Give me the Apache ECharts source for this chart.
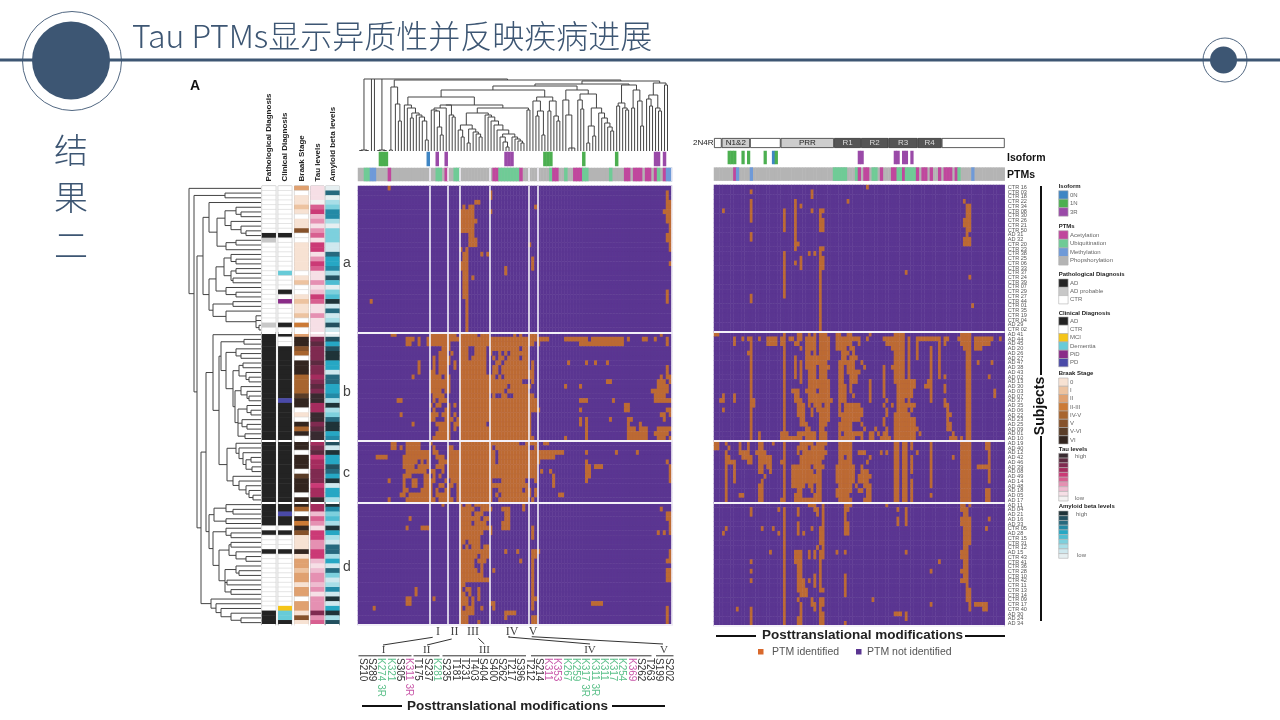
<!DOCTYPE html>
<html><head><meta charset="utf-8">
<style>html,body{margin:0;padding:0;background:#fff}#c{width:1280px;height:720px}</style>
<script src="https://cdn.jsdelivr.net/npm/echarts@6/dist/echarts.min.js"></script>
</head><body><div id="c"></div>
<script>
// ---------- DATA ----------
const subjectsA=['CTR 16','CTR 03','CTR 18','CTR 22','CTR 34','CTR 08','CTR 30','CTR 26','CTR 21','CTR 50','AD 31','AD 32','CTR 20','CTR 23','CTR 38','CTR 25','CTR 06','CTR 33','CTR 37','CTR 24','CTR 39','CTR 07','CTR 29','CTR 27','CTR 44','CTR 01','CTR 35','CTR 19','CTR 04','AD 29','CTR 02'];
const subjectsB=['AD 41','AD 44','AD 45','AD 20','AD 26','AD 27','AD 47','AD 38','AD 43','AD 02','AD 13','AD 30','AD 03','AD 07','AD 37','AD 35','AD 06','AD 22','AD 23','AD 25','AD 09','AD 01','AD 10'];
const subjectsC=['AD 19','AD 40','AD 12','AD 42','AD 46','AD 39','AD 08','AD 49','AD 14','AD 48','AD 18','AD 05','AD 17'];
const subjectsD=['AD 11','AD 04','AD 21','AD 16','AD 33','CTR 05','AD 28','CTR 15','CTR 31','CTR 12','AD 15','CTR 43','CTR 41','CTR 36','CTR 28','CTR 10','CTR 42','CTR 11','CTR 13','CTR 14','CTR 09','CTR 17','CTR 40','AD 30','AD 24','AD 34'];
// PTM identified (column ranges per subject) — left heat map, clustered by PTM
const leftA=['10','44,103','44,103','39-40,103-104','35,37-38,59,103-104','34-38,44,102-104','34-38,103-104','34-39,103-104','34-38,104','34-38,104','37-38,103-104','37-39,103-104','37-39,57,104','34,36,104','35-36,41,43','35-36,58','34-36,58,104','34-36,49,58','35-36,49','35-36,38','35-36','35-36','35-36,103','35-36,103','4,36,103','36','36','36','36','36','36'];
const leftB=['11-12,24-32,34-39,41-43,52,54,57-59,101','16-18,20,23-63,69-76,78-88,90,95-96,99,103','16-17,20,23-30,34-58,60,74-88,103','28-30,34-36,39-42,44-53,55-56','27-29,31,34-36,39-42,44,47,49,51-56','25,27-30,34-36,38-42,45,47-48,50-53,55-56','20,25,27-30,32,34-42,46-47,49-56,58,70,76,79,83','20,25,27-29,32,34-42,45-46,48-56,58,103','20,24-25,27-29,34-42,45-46,48-58,103','18,24-27,29-30,34-45,47,49-58,101,103-104','24-30,34-54,58,83-84,100-102,104','24-30,34-49,51-57,69,74,100-103','24-27,29-30,34-48,50-56,98-103','25-28,34-43,45,48-49,52-58,99-102','13-14,25,27-29,34-59,74-76,85,99-104','24,26-27,30,32,34-59,89-90','25,29-30,34-60,74,89-90,103-104','14,24-26,28-30,32,34-57,101-102,104','24-25,29-31,33-57,74,76,84,90-91,102','18,26-30,32-42,44-57,74,76,90,94','27-30,32,34-57,76,90-92,94-96,100-104','26-30,34-57,76,90-96,99-103','25-30,34-58,69,76,90-96,100-102,104'];
const leftC=['11-12,16-20,24,34-53,56-59,62-63','11-12,14,16-20,25,30-31,34-44,46-56,59','16-23,25-26,30-45,47-68,76,86,93','6-9,15-23,26-28,30-45,47-65','15-19,21,23,27-29,30-45,47-60,76,103','15-18,20-23,26-28,30-59,76-77,79-81,104','16-22,24-25,28,30-59,61,64,76-77,104','15-17,22-23,25,27,30-59,65,76-77,104','10,15,18-19,22-25,29,31-44,48-55,59,65,76,104','15,18-19,22-24,27-28,30-31,33-56,65','15-16,21-24,26,29-30,33-44,47-54,56-57,59','14-15,17-24,26-30,33-44,46,48-57,59,67-68','10,16-25,27-31,33-44,47-56,58'];
const leftD=['28,34,36-37,39-43,55','34-38,41-44,48-50,55,101','34-37,39-41,49-50,103-104','17,34-40,42-43,49-50,103-104','34-37,39-42,48-50,104','16,21-23,34-44,48-50,58,104','34-41,44,58,100,102,104','34-40,58','34-35,37-40','34,36,38-40,42-43','34-43,49,53,58-60,104','34-39,41-43,58-59,104','34-38,40-42,54,58,103-104','34-38,41,58','34-39,41,45,58,103-104','34-41,58,103-104','34-43,58,103-104','34-35,58','34,36-37,19,40,58','19,34-35,37,40,58','16-17,25,34-36,38,40,58-59','16-17,34-36,38,44-45,58,78-81','5,34,36-38,41,45,58,103','34-38,49-52,103','34-36,49,58-59,103','34-36,40,58-59,103'];
// PTM identified — right heat map, ordered along the protein
const rightA=['55','13,35','35','13,29,48,90','13,29,31,91-92','3,13,25,29,35,38-39,91-92','13,25,29,38,91-92','13,25,29,38-39,90-92','25,29,38-39,90-92','25,29,38-39,91-92','13,29,91','13,29,90-92','29-30,90-92','29,38-39','25,34,36,38','25,31,38-39','25,29,31,38-39','25,31,38-39','25,38,69','25,38,92','25,38','25,38','25,38','13,25,38','13,38','38,93','38','38','38','38','38'];
const rightB=['0-1,25,30-31,34,36,38-40,44-45,48-49,56,65-68,89-92','7,10,12-13,16,19-22,24-25,27-28,30-31,33-36,38-41,44-52,55,61-68,70,73-81,83-84,88-92,94-100,103','7,13,19-22,24-25,29-30,33-36,38-41,44-49,52,62-68,70,73,81,83,89-92,94-99','13,25,31,33-36,38-41,44-47,49-50,64-68,70,73,78,81,90-92,94-96','12-13,25,33-34,36,38-41,46-48,50,65-68,70,73,78,81,91-92','13,25,29,33-41,46-47,49-51,65-68,70,73,78,81,91-92','13,25,29,31,33-40,45-50,53,65-68,70,78,81,91-92,95,100','13,25,29,31,33-36,38-41,45-46,48-50,54,61,64-68,70,78,81,91-92','13,25,29,31,34-36,38-40,45-46,48-52,61,65-68,70,78,81,91-92','13,25,29,31,34-36,38-40,45-46,49-51,61,65-68,70,78,81,83,91-92,99','13,25,31,34-41,45-46,49-51,56,61,65-72,77-78,91-92','13,25,34-41,45-47,49,56,61,66-72,76-78,83,91-92','13,25,28-30,33-36,38-41,45-47,49,56,61,66-71,78,83,91-92,101','3,7,13,25,29-30,34-41,45-47,50,56,61,66-71,78,91-92,101','2-3,7,13-14,25,29-31,34-42,45-47,56,62,66-68,70,78,83,91-92','13-14,25,30-32,34,36-38,40-41,45,47-52,61,64,66-72,83-84,91-92','3,13,25,30-32,35,37-41,45,47-53,62,66-69,71,84,91-92','13,25,30-32,35,38-41,45-53,62,65-70,84-85,91-92','13,25,31-32,38-41,46-52,61,65-72,84,91-92','13,25,31-33,38-40,45-49,53,61,65-72,84-85,91-92','13,25,33-34,38-39,45-49,54,58,62,65-73,84-85,91-92','13,16,24-26,30-36,38-40,45,47-53,56-57,59,61-62,65-72,74,86,91-92','13,16,24-31,33-36,38-40,45-50,53,56-57,60-63,65-72,85-87,89,91-92'];
const rightC=['0-1,4,9,12,16-17,21,25,31-35,37-40,45-49,65-66,68-69,71,78,89-92,98-99','0-1,5,9,12,16-17,25,30-33,35-39,45-49,65-66,68-69,71,78,89-92,98-99','4,9-12,15-18,25,30,32-40,45-49,52-54,60,62,65-66,68-69,73,78,89-92,99','4-5,10-13,16-20,25,31-39,45-46,48-49,56,65-66,68-69,71,78,86,89-92,99','4-7,12-13,16-20,24-25,31-38,45-49,55,65-66,68-69,71,78,89-92,99','4,7,16-17,19-20,25,28-34,36-39,44-50,53,65-66,68-69,71,78,89-92,95-99','4,7,16-17,20,25,28-35,37-38,44-50,53-55,65-66,68-69,71,78,89-92,99','4,7,18,25,28-38,44-50,52-56,65-66,68-69,78,89-92,99','4,7,17,25,28-38,44-50,52-55,65-66,68-69,71,78,89-92,99','4,16-17,25,28-32,34-35,37-38,45-49,51,54-56,65-66,68-69,71,78,89-92','4,16-17,25,30-31,35,37-38,44-49,52-53,55-56,65-66,68-69,71,89-92,98-99','4,9-10,16-17,25,29-31,36-38,44-48,55-56,65-66,68-69,71,78,89-92,98-99','4,16-17,24-25,29-38,45-49,54-56,65-66,68-69,71,89-92,98-99'];
const rightD=['34-36,39,47-49,62,89-90,92','13,23,25,30,36-37,39,47-48,66,69,89-91','13,25,30,37,39,47,69,90-91','25,39,47,66,69,89-92,99','25,30,39,47-48,66,69,89-92','4,17,21,25,30,35,38-39,47-48,90-92,98','3,23,25,30,32,38-39,47-48,90-92','25,38-39,90-92','25,38-39,90-92','25,37,39,90-91','20,25,29-31,34,36,38-39,44,47,69,89-91','25,29-31,34,36,38-39,89-91','13,25,29-31,38,81,90-91','25,30-31,38,90-91','13,25,30-31,38,78,89-91','25,30-31,36,38,47,90-91','13,25,30-32,34,36,38,47,89-91','25,30-32,36,38,47,91','25,30-33,38-39,47,91-92','25,31-33,47,91-92','25,30,35,38-39,57,91-92','25,31,35-36,38-39,78,92,94-98','8,13,25,31,36,38,92,97-98','13,25,31,38-39,65-67,69','13,25,30-31,38-39,69','13,25,30-31,38-39,47'];
// Subject annotation tracks (one value per subject)
const pathologicalDiagnosis=[0,0,0,0,0,0,0,0,0,0,1,2,0,0,0,0,0,0,0,0,0,0,0,0,0,0,0,0,0,2,0, 1,1,1,1,1,1,1,1,1,1,1,1,1,1,1,1,1,1,1,1,1,1,1, 1,1,1,1,1,1,1,1,1,1,1,1,1, 1,1,1,1,1,0,1,0,0,0,1,0,0,0,0,0,0,0,0,0,0,0,0,1,1,1];
const clinicalDiagnosis=[1,1,1,1,1,1,1,1,1,1,0,1,1,1,1,1,1,1,3,1,1,1,0,1,4,1,1,1,1,0,1, 0,1,1,0,0,0,0,0,0,0,0,0,0,0,5,0,0,0,0,0,0,0,0, 0,0,0,0,0,0,0,0,0,0,0,0,0, 0,0,5,0,0,1,0,1,1,1,0,1,1,1,1,1,1,1,1,1,1,1,2,3,3,0];
const braakStage=[3,0,1,1,2,1,0,1,1,6,0,0,1,1,1,1,1,1,0,1,2,0,0,1,2,1,1,2,0,4,0, 3,8,8,6,5,0,8,8,8,5,5,5,5,7,8,8,0,1,0,8,5,8,0, 8,8,0,8,8,8,0,7,8,8,8,0,8, 8,5,0,8,4,8,6,1,1,1,8,1,3,3,2,3,3,1,3,3,0,3,3,1,6,1];
const tauLevels=[1,1,1,0,4,5,2,3,1,3,4,1,5,5,1,3,5,4,1,1,3,1,2,5,4,1,1,3,1,1,1, 1,7,8,7,7,7,8,7,7,6,7,8,7,9,9,6,6,9,9,7,8,9,9, 6,7,8,5,6,6,7,7,7,5,6,6,9, 6,6,2,4,3,1,5,5,3,3,5,5,2,1,2,3,3,2,3,1,3,3,3,7,3,4];
const amyloidLevels=[0,7,0,2,3,6,6,2,0,3,3,3,1,1,7,5,5,6,2,8,4,0,3,4,9,1,7,1,2,8,1, 0,8,5,8,9,9,5,5,1,7,7,5,5,6,2,9,2,3,7,9,9,5,6, 8,1,9,5,5,8,7,5,9,1,5,5,2, 9,6,3,4,2,9,5,2,1,7,7,2,5,1,7,3,1,2,6,1,9,1,5,9,2,8];
// Column annotations: [column, class]
const leftIsoform=[[7,1],[8,1],[9,1],[23,0],[26,2],[29,2],[49,2],[50,2],[51,2],[62,1],[63,1],[64,1],[75,1],[86,1],[99,2],[100,2],[102,2]];
const rightIsoform=[[5,1],[6,1],[7,1],[10,1],[12,1],[18,1],[21,0],[22,1],[52,2],[53,2],[65,2],[66,2],[68,2],[69,2],[71,2]];
// 0 acetylation, 1 ubiquitination, 2 methylation
const leftPtmClass=[[2,1],[3,1],[4,2],[5,2],[10,0],[26,1],[27,1],[29,0],[32,1],[33,1],[45,0],[46,0],[47,1],[48,1],[49,1],[50,1],[51,1],[52,1],[53,1],[54,0],[64,1],[65,0],[66,0],[69,1],[72,0],[73,0],[74,0],[75,1],[76,1],[84,1],[89,0],[90,0],[92,0],[93,0],[94,0],[96,0],[97,0],[99,0],[100,1],[102,0],[103,2],[104,2]];
const rightPtmClass=[[7,0],[8,2],[13,2],[43,1],[44,1],[45,1],[46,1],[47,1],[51,1],[52,0],[54,0],[55,0],[57,1],[58,1],[60,0],[64,0],[65,0],[66,1],[67,1],[68,0],[69,1],[70,1],[71,1],[72,1],[73,0],[75,0],[76,0],[78,0],[81,0],[83,0],[84,0],[85,0],[87,0],[88,1],[93,2]];
const columnGroupStarts=[24,30,34,44,57,60];
const rowGroupStarts=[31,54,67];
// Dendrograms: [height, child, child...], 0 is a leaf
const topTree=[72,[1,[.5,0,0],[.5,0,0]],0,0,[1,[.5,0,0],[.5,0,0]],[71,
 [64,[1,0,0],[47,0,[30,0,0]]],
 [70,[67,[65,[61,
   [54,[46,0,[43,0,[38,[33,0,0],[36,0,[34,0,[30,0,[11,0,0]]]]]]],
     [46,[46,[43,[41,0,[40,0,[24,0,[16,0,0]]]],0],[36,0,[34,0,0]]],
      [43,[38,[26,[21,0,[14,0,0]],[22,[8,0,0],[19,0,[17,0,[14,0,0]]]]],
           [36,0,[34,0,[30,0,[26,0,[21,0,[17,[14,0,[9,0,[4,0,0]]],[14,0,[12,0,[10,0,[8,0,0]]]]]]]]]]],[41,0,0]]]],
   [54,[50,0,[40,[35,0,0],[16,0,0]]],[50,[40,0,0],[35,0,[30,0,0]]]]],
  [61,[51,0,[36,0,[3,0,0,0]]],[57,[51,0,[42,0,0]],[43,[25,[8,0,0],[15,0,0]],[38,0,[33,0,[28,0,[24,0,[20,0,0]]]]]]]]],
  [66,[48,[45,0,0],[43,0,[41,0,0]]],[61,[43,0,0],[50,0,[25,0,0]]]]],
 [68,[56,[52,0,[45,0,0]],[43,0,[40,0,0]]],[66,0,0]]]]];
const leftTree=[72,0,[67,[36,0,0],[64,
 [58,[52,0,[44,[36,[25,0,[20,0,0]],[30,0,[20,0,[15,0,0]]]],[35,[25,0,0],0]]],
     [52,[45,[37,[30,0,[25,0,0]],[30,[25,0,0],[28,0,0]]],[35,0,[25,0,0]]],[48,[28,0,0],[35,0,[5,0,0,[2,0,0]]]]]],
 [60,[55,[48,0,[42,
   [40,[17,0,0],[35,[25,0,[20,0,0]],[28,[22,[18,0,0],[15,0,[12,0,0]]],[26,[20,0,[14,0,[12,0,0]]],[23,[14,0,[10,0,0]],[19,0,[14,0,0]],[16,0,0]]]]]],
   [34,[25,0,[22,0,[18,0,[15,[10,0,0],[9,0,0]]]]],[28,0,[22,0,[15,0,[12,0,[8,0,0]]]]]]]],
  [52,[47,[35,0,[28,0,0]],[35,0,0]],[48,[35,0,[30,0,0]],[42,[32,[30,0,0],[25,0,[15,0,0]]],[36,[25,0,[22,0,0]],[34,0,0],[30,0,0]]]]]],
  [50,0,[45,0,[40,0,[30,0,[20,0,0]]]]]]]]];
const domainNames=['','N1&2','','PRR','R1','R2','R3','R4',''];
const domainLengths=[23,85,92,160,81,82,88,72,189];
const ptmTicks=['S210','S289','K274 3R','K321','S305','K311 3R','T175','S237','K281','S235','T181','T231','T403','S404','S400','S262','T217','S396','T212','S214','K311','K353','K267','K259','K317 3R','K311 3R','K311','K317','K254','K369','S262','T263','S199','S202'];
const ptmTickClass=[9,9,1,1,9,0,9,9,1,9,9,9,9,9,9,9,9,9,9,9,0,0,1,1,1,1,1,1,1,0,9,9,9,9];
const groupNames=['I','II','III','IV','V'];
// ---------- STYLE ----------
const C={purple:'#5a3591',orange:'#bd6a32',slate:'#3d5673',ptm:['#c0479d','#6fcb96','#6f9ad8','#b4b4b4'],iso:['#3f86c4','#4caf50','#9a4aa8'],
 path:['#ffffff','#232323','#c8c8c8'],clin:['#232323','#ffffff','#f5c518','#67cbd8','#8a2c88','#4a4aa8'],
 braak:['#ffffff','#f7e2d3','#edc3a0','#e0a170','#cc7a35','#a8652f','#86522b','#5a3d28','#33251f'],
 tau:['#f3f1f1','#f6dfe6','#eebcd0','#e590b2','#d85f90','#cb3a76','#a52c5e','#7f2a50','#5c2a40','#382a30'],
 amy:['#e6eff1','#cfe8ee','#a8dee7','#7dd0dd','#4fbdd2','#26a7c4','#238aa6','#26697e','#23505f','#1f3338']};
const FF='"Liberation Sans",Arial,sans-serif', CJK='"Noto Sans CJK SC",sans-serif';
const allSubjects=[...subjectsA,...subjectsB,...subjectsC,...subjectsD];
const colIdx=Array.from({length:105},(_,i)=>i), rowIdx=allSubjects.map((_,i)=>i);
function expand(rows){const m=rows.map(s=>{const o=new Set();s.split(',').forEach(p=>{const [a,b]=p.split('-').map(Number);for(let i=a;i<=(b===undefined?a:b);i++)o.add(i);});return o;});return m;}
const grid=[],xAxis=[],yAxis=[],series=[];
const hiddenAxis=(extra)=>Object.assign({axisLine:{show:false},axisTick:{show:false},axisLabel:{show:false},splitLine:{show:false}},extra);
const sepLine=(list,w)=>({show:true,interval:(i)=>list.includes(i),lineStyle:{color:'#f3f0f8',width:w,type:'solid'}});
function addGrid(g,x,y){const i=grid.length;grid.push(Object.assign({containLabel:false},g));xAxis.push(hiddenAxis(Object.assign({gridIndex:i},x)));yAxis.push(hiddenAxis(Object.assign({gridIndex:i},y)));return i;}
function heat(i,data,border,bw){series.push({type:'heatmap',xAxisIndex:i,yAxisIndex:i,data,silent:true,progressive:0,animation:false,emphasis:{disabled:true},itemStyle:{borderColor:border||'transparent',borderWidth:bw||0}});}
const cell=(c,r,col)=>({value:[c,r,1],itemStyle:{color:col}});
function tree(node,pos,out,vertical){
 if(node===0){return {p:pos.n++ +.5,h:0};}
 const kids=node.slice(1).map(k=>tree(k,pos,out,vertical));const h=node[0];
 const a=kids[0].p,b=kids[kids.length-1].p;
 const seg=(p1,h1,p2,h2)=>out.push(vertical?[p1,h1,p2,h2]:[h1,p1,h2,p2]);
 seg(a,h,b,h);kids.forEach(k=>seg(k.p,k.h,k.p,h));
 return {p:(a+b)/2,h};
}
function dendro(i,t,vertical){const out=[];tree(t,{n:0},out,vertical);series.push({type:'custom',xAxisIndex:i,yAxisIndex:i,data:out,silent:true,animation:false,clip:false,
 renderItem:(p,api)=>{const a=api.coord([api.value(0),api.value(1)]),b=api.coord([api.value(2),api.value(3)]);return {type:'line',shape:{x1:a[0],y1:a[1],x2:b[0],y2:b[1]},style:{stroke:'#444',lineWidth:1}};}});}
// dendrograms
dendro(addGrid({left:358,top:79,width:314,height:72},{type:'value',min:0,max:105},{type:'value',min:0,max:72}),topTree,true);
dendro(addGrid({left:189,top:186,width:72,height:439},{type:'value',min:0,max:72,inverse:true},{type:'value',min:0,max:93,inverse:true}),leftTree,false);
// column annotation strips
function strip(left,w,top,h,cells,seps,bg){const i=addGrid({left,top,width:w,height:h},{type:'category',data:colIdx,splitLine:seps?sepLine(seps,1.6):{show:false},z:5},{type:'category',data:['a']});
 const d=[];if(bg){colIdx.forEach(c=>d.push(cell(c,0,bg)));}cells.forEach(([c,k])=>d.push(cell(c,0,k)));heat(i,d);}
strip(358,314,152,14,leftIsoform.map(([c,k])=>[c,C.iso[k]]));
strip(358,314,168,13,leftPtmClass.map(([c,k])=>[c,C.ptm[k]]),columnGroupStarts,C.ptm[3]);
strip(714,290.7,151,13,rightIsoform.map(([c,k])=>[c,C.iso[k]]));
strip(714,290.7,167.6,13,rightPtmClass.map(([c,k])=>[c,C.ptm[k]]),null,C.ptm[3]);
// main heat maps
function mainHeat(left,top,w,h,rows,colSeps,withLabels){
 const i=addGrid({left,top,width:w,height:h},
  {type:'category',data:colIdx,splitLine:colSeps?sepLine(colSeps,1.6):{show:false},z:5},
  Object.assign({type:'category',data:allSubjects,inverse:true,splitLine:sepLine(rowGroupStarts,1.8),z:5},withLabels?{position:'right',axisLabel:{show:true,interval:0,fontSize:5.6,color:'#555',margin:3,fontFamily:FF}}:{}));
 const m=expand(rows),d=[];
 m.forEach((s,r)=>colIdx.forEach(c=>d.push(cell(c,r,s.has(c)?C.orange:C.purple))));
 heat(i,d,'rgba(165,145,205,.12)',.3);
}
mainHeat(358,186,314,439,[...leftA,...leftB,...leftC,...leftD],columnGroupStarts,false);
mainHeat(714,185,290.7,441,[...rightA,...rightB,...rightC,...rightD],null,true);
// subject annotation tracks
function track(left,w,name,vals,pal,lightBelow){
 const i=addGrid({left,top:186,width:w,height:439,show:true,borderColor:'#b5b5b5',borderWidth:1,backgroundColor:'#fff'},
  {type:'category',data:[name],position:'top',axisLabel:{show:true,rotate:-90,interval:0,fontSize:8,fontWeight:'bold',color:'#222',margin:4.5,fontFamily:FF}},
  {type:'category',data:rowIdx,inverse:true,splitLine:{show:true,interval:(k)=>rowGroupStarts.includes(k),lineStyle:{color:'#fff',width:2}},z:5});
 heat(i,vals.map((v,r)=>{const o=cell(0,r,pal[v]);if(pal[v]==='#ffffff'){o.itemStyle.borderColor='#cfcfcf';o.itemStyle.borderWidth=.5;}return o;}));
}
track(262,13.7,'Pathological Diagnosis',pathologicalDiagnosis,C.path);
track(278.3,13.4,'Clinical Diagnosis',clinicalDiagnosis,C.clin);
track(294.5,14,'Braak Stage',braakStage,C.braak);
track(310.7,13.3,'Tau levels',tauLevels,C.tau);
track(325.7,13.6,'Amyloid beta levels',amyloidLevels,C.amy);
// 2N4R domain bar
{const i=addGrid({left:714,top:138,width:290.7,height:10},{type:'value',min:0,max:872},{type:'category',data:['2N4R']});
 domainLengths.forEach((v,k)=>{const dark=/^R/.test(domainNames[k]);series.push({type:'bar',xAxisIndex:i,yAxisIndex:i,stack:'d',barWidth:'100%',silent:true,animation:false,data:[v],
  itemStyle:{color:dark?'#555555':(domainNames[k]?'#cdcdcd':'#ffffff'),borderColor:'#333',borderWidth:.8},
  label:{show:!!domainNames[k],position:'inside',formatter:domainNames[k],fontSize:8,color:dark?'#ddd':'#222',fontFamily:FF}});});}
// bottom PTM tick labels
{const tickCol=['#c857a8','#5cc08a'];addGrid({left:358,top:640,width:315,height:16},
 {type:'category',data:ptmTicks,position:'bottom',axisLabel:{show:true,interval:0,rotate:-90,margin:2,fontSize:10,fontFamily:FF,color:(v,idx)=>{const k=ptmTickClass[idx];return k===9?'#333':tickCol[k];}}},
 {type:'value',min:0,max:1});
 series.push({type:'line',xAxisIndex:grid.length-1,yAxisIndex:grid.length-1,data:[],silent:true});}
// ---------- SLIDE FURNITURE ----------
const g=[];
const T=(text,x,y,s,o)=>g.push({type:'text',x,y,silent:true,z:20,style:Object.assign({text,fill:'#333',font:(o&&o.weight||'normal')+' '+s+'px '+(o&&o.family||FF),textAlign:'left',textVerticalAlign:'middle'},o&&o.style)});
const L=(x1,y1,x2,y2,c,w)=>g.push({type:'line',silent:true,z:20,shape:{x1,y1,x2,y2},style:{stroke:c||'#222',lineWidth:w||1}});
const R=(x,y,w,h,c)=>g.push({type:'rect',silent:true,z:20,shape:{x,y,width:w,height:h},style:{fill:c,stroke:'#b0b0b0',lineWidth:.6}});
L(0,60,1280,60,C.slate,3);
g.push({type:'circle',silent:true,z:21,shape:{cx:72,cy:61,r:49.5},style:{fill:'none',stroke:C.slate,lineWidth:.9}});
g.push({type:'circle',silent:true,z:22,shape:{cx:71,cy:60.5,r:39},style:{fill:C.slate}});
g.push({type:'circle',silent:true,z:21,shape:{cx:1225,cy:60,r:22},style:{fill:'none',stroke:C.slate,lineWidth:.9}});
g.push({type:'circle',silent:true,z:22,shape:{cx:1223.5,cy:60,r:13.5},style:{fill:C.slate}});
T('Tau PTMs显示异质性并反映疾病进展',132,36,32,{family:CJK,weight:'300',style:{fill:C.slate}});
['结','果','二'].forEach((t,i)=>T(t,71,150+i*47.5,34,{family:CJK,weight:'300',style:{fill:C.slate,textAlign:'center'}}));
T('A',190,86,14,{weight:'bold',style:{fill:'#111'}});
[['a',263],['b',392],['c',473],['d',567]].forEach(([t,y])=>T(t,343,y,14,{style:{fill:'#444'}}));
T('2N4R',693,143,8,{style:{fill:'#222'}});
T('Isoform',1007,158.5,10.5,{weight:'bold',style:{fill:'#111'}});
T('PTMs',1007,175,10.5,{weight:'bold',style:{fill:'#111'}});
// group connectors
const groupX=[[438,632],[454.5,632],[473,632],[512,632],[533,632]];
groupNames.forEach((t,i)=>T(t,groupX[i][0],groupX[i][1],12,{family:'"Liberation Serif",serif',style:{fill:'#444',textAlign:'center'}}));
L(432.7,637.3,383,645,'#333',1);L(451.7,639,427,645,'#333',1);L(478.3,638.3,484.3,644,'#333',1);
L(508.3,636.7,510,637,'#333',.8);L(508.3,637,590,644,'#333',1);L(531.7,636.7,663,644,'#333',1);
const heads=[[383.5,358.5,411.5],[426.7,413.5,439.5],[484.5,442.5,526],[590,531,651.5],[664,656,673.5]];
heads.forEach((h,i)=>{T(groupNames[i],h[0],650.5,11,{family:'"Liberation Serif",serif',style:{fill:'#444',textAlign:'center'}});L(h[1],655.8,h[2],655.8,'#333',1);});
T('Posttranslational modifications',507.5,706,13.5,{weight:'bold',style:{fill:'#222',textAlign:'center'}});
L(362,706,402,706,'#111',2);L(612,706,665,706,'#111',2);
T('Posttranslational modifications',862.5,635.5,13.5,{weight:'bold',style:{fill:'#222',textAlign:'center'}});
L(716,636,756,636,'#111',2);L(965,636,1005,636,'#111',2);
g.push({type:'rect',silent:true,z:20,shape:{x:758,y:649,width:5.5,height:5.5},style:{fill:'#d9692c'}});
T('PTM identified',772,652,10.5,{style:{fill:'#555'}});
g.push({type:'rect',silent:true,z:20,shape:{x:856,y:649,width:5.5,height:5.5},style:{fill:C.purple}});
T('PTM not identified',867,652,10.5,{style:{fill:'#555'}});
// subjects
L(1041,186,1041,375,'#111',2);L(1041,436,1041,621,'#111',2);
g.push({type:'text',silent:true,z:20,x:1040,y:406,rotation:Math.PI/2,style:{text:'Subjects',fill:'#111',font:'bold 14px '+FF,textAlign:'center',textVerticalAlign:'middle'}});
// legends
const LX=1058.7,SW=9.4;
const legend=(title,ty,names,cols,sy,sh)=>{T(title,LX,ty,6,{weight:'bold',style:{fill:'#222'}});cols.forEach((c,i)=>{R(LX,sy+i*sh,SW,sh,c);if(names[i])T(names[i],1070,sy+(i+.5)*sh,6,{style:{fill:'#666'}});});};
legend('Isoform',186,['0N','1N','3R'],C.iso,190.7,8.5);
legend('PTMs',226.7,['Acetylation','Ubiquitination','Methylation','Phopshorylation'],C.ptm,230.7,8.6);
legend('Pathological Diagnosis',274.3,['AD','AD probable','CTR'],[C.path[1],C.path[2],C.path[0]],279,8.3);
legend('Clinical Diagnosis',313,['AD','CTR','MCI','Dementia','PiD','PD'],C.clin,317,8.3);
legend('Braak Stage',373,['0','I','II','II-III','IV-V','V','V-VI','VI'],C.braak.slice(1),378,8.25);
const rev=a=>a.slice().reverse();
legend('Tau levels',449.3,[],rev(C.tau),453.3,4.77);
T('high',1075,456.7,6,{style:{fill:'#666'}});T('low',1075,498,6,{style:{fill:'#666'}});
legend('Amyloid beta levels',506,[],rev(C.amy),511,4.73);
T('high',1076,514,6,{style:{fill:'#666'}});T('low',1077,555,6,{style:{fill:'#666'}});
const chart=echarts.init(document.getElementById('c'),null,{renderer:'canvas'});
chart.setOption({animation:false,backgroundColor:'#fff',tooltip:{show:false},grid,xAxis,yAxis,series,graphic:{elements:g}});
</script></body></html>
